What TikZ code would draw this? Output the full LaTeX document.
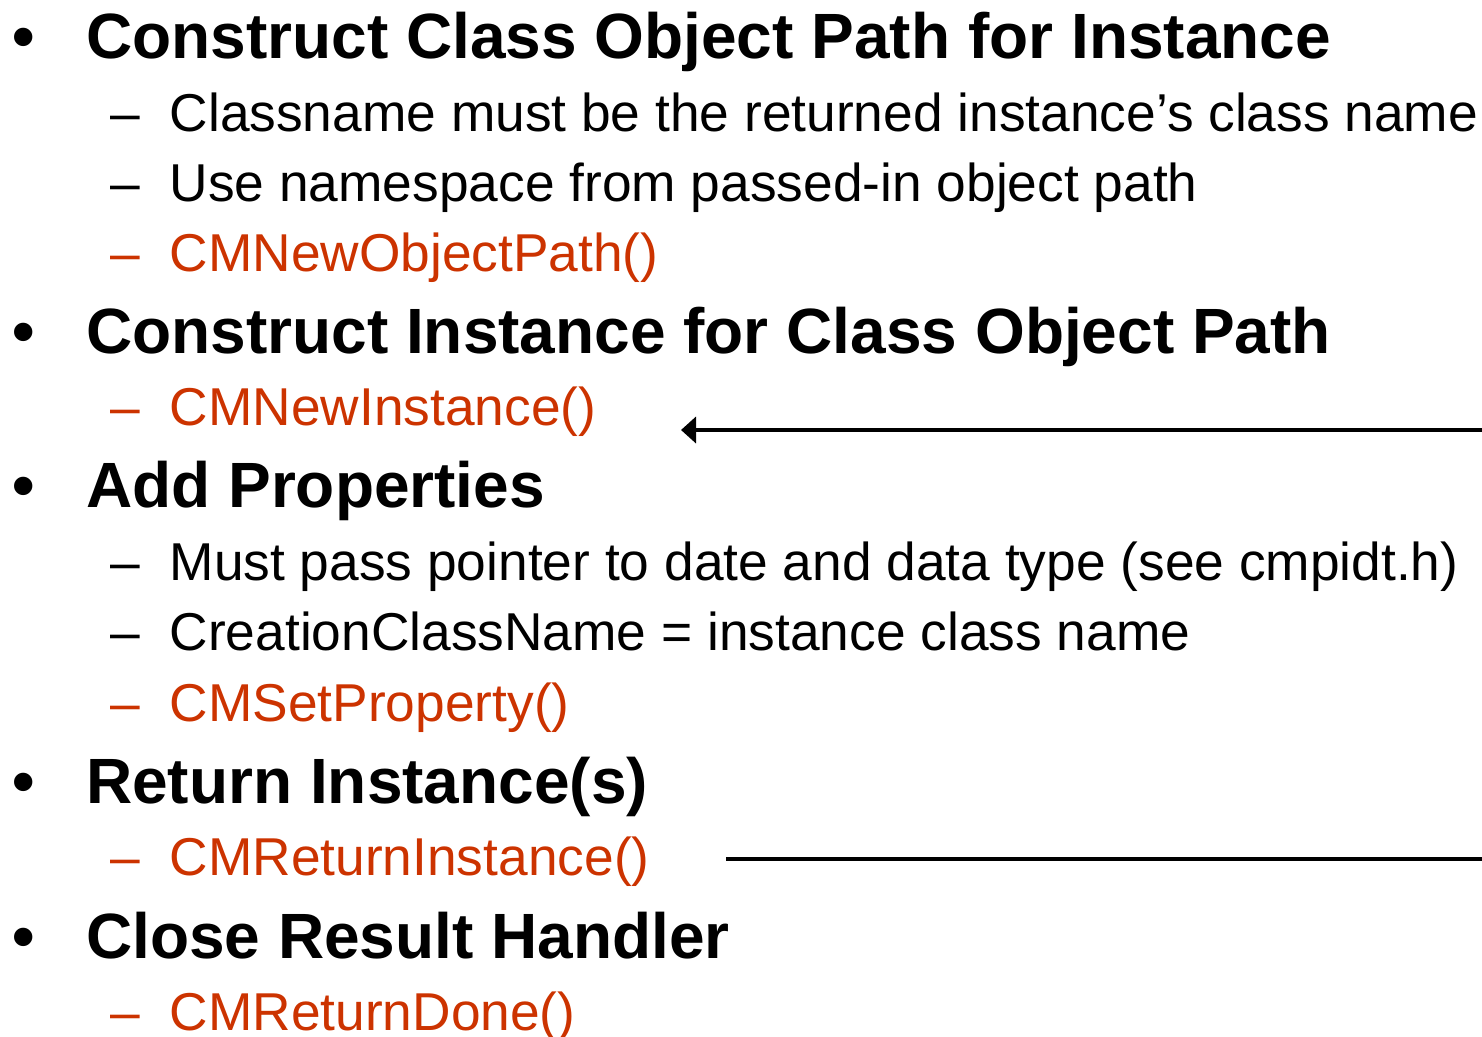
\documentclass[tikz,border=0pt]{standalone}
\usepackage{fontspec}
\setmainfont{Liberation Sans}
\usetikzlibrary{arrows.meta}
\definecolor{cmred}{RGB}{204,51,0}
\tikzset{
  head/.style={anchor=base west, inner sep=0pt, font=\fontsize{64}{70}\selectfont\bfseries},
  bul/.style={anchor=base west, inner sep=0pt, font=\fontsize{64}{70}\selectfont\bfseries},
  sub/.style={anchor=base west, inner sep=0pt, font=\fontsize{53.3}{60}\selectfont},
  dsh/.style={anchor=base west, inner sep=0pt, font=\fontsize{53.3}{60}\selectfont},
  api/.style={sub, text=cmred},
  apidsh/.style={dsh, text=cmred},
  conn/.style={line width=4pt},
  arr/.style={conn, -{Triangle[length=15pt,width=26pt]}}
}
\begin{document}
\begin{tikzpicture}[x=1pt,y=-1pt]
\useasboundingbox (0,0) rectangle (1482,1036);
% headings
\node[bul] (b1) at (12,58) {•};
\node[head] (h1) at (86,58) {Construct Class Object Path for Instance};
\node[dsh] (d11) at (110,131) {–};
\node[sub] (s11) at (169.5,131) {Classname must be the returned instance’s class name};
\node[dsh] (d12) at (110,201) {–};
\node[sub] (s12) at (169.5,201) {Use namespace from passed-in object path};
\node[apidsh] (d13) at (110,271) {–};
\node[api] (s13) at (169.5,271) {CMNewObjectPath()};

\node[bul] (b2) at (12,353) {•};
\node[head] (h2) at (86,353) {Construct Instance for Class Object Path};
\node[apidsh] (d21) at (110,425) {–};
\node[api] (s21) at (169.5,425) {CMNewInstance()};

\node[bul] (b3) at (12,507) {•};
\node[head] (h3) at (86,507) {Add Properties};
\node[dsh] (d31) at (110,580) {–};
\node[sub] (s31) at (169.5,580) {Must pass pointer to date and data type (see cmpidt.h)};
\node[dsh] (d32) at (110,650) {–};
\node[sub] (s32) at (169.5,650) {CreationClassName = instance class name};
\node[apidsh] (d33) at (110,721) {–};
\node[api] (s33) at (169.5,721) {CMSetProperty()};

\node[bul] (b4) at (12,803) {•};
\node[head] (h4) at (86,803) {Return Instance(s)};
\node[apidsh] (d41) at (110,875) {–};
\node[api] (s41) at (169.5,875) {CMReturnInstance()};

\node[bul] (b5) at (12,958) {•};
\node[head] (h5) at (86,958) {Close Result Handler};
\node[apidsh] (d51) at (110,1030) {–};
\node[api] (s51) at (169.5,1030) {CMReturnDone()};

% connectors
\coordinate (a1s) at (1482,430);
\coordinate (a1e) at (681,430);
\draw[arr] (a1s) -- (a1e);
\coordinate (a2s) at (726,859);
\coordinate (a2e) at (1482,859);
\draw[conn] (a2s) -- (a2e);
\end{tikzpicture}
\end{document}
